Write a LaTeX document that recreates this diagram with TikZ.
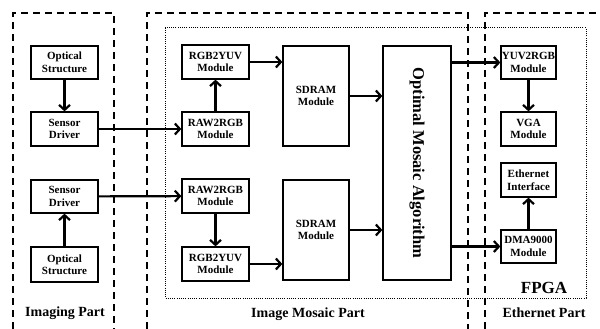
\documentclass[tikz,border=0pt]{standalone}
\usepackage{fontspec}
\setmainfont{Liberation Serif}
\usetikzlibrary{arrows.meta}

\tikzset{
  blk/.style={draw, line width=1.3pt, fill=white, inner sep=0pt,
    font=\fontsize{11}{12.5}\selectfont\bfseries, align=center},
  flow/.style={line width=2.2pt, -{Straight Barb[length=5pt,width=11pt]}},
  partframe/.style={line width=1.1pt, dash pattern=on 7pt off 5pt},
  fpgaframe/.style={line width=1pt, dash pattern=on 1pt off 1.2pt},
  partlabel/.style={font=\fontsize{14}{16}\selectfont\bfseries, inner sep=0pt}
}

\begin{document}
\begin{tikzpicture}[x=1pt, y=-1pt]
\useasboundingbox (0,0) rectangle (600,329);

% dashed frames of the three parts
\draw[partframe] (13,329) -- (13,13) -- (114,13) -- (114,329);
\draw[partframe] (147,329) -- (147,13) -- (468,13) -- (468,329);
\draw[partframe] (485,329) -- (485,13) -- (600,13);

% dotted FPGA frame
\draw[fpgaframe] (165,28) rectangle (586,298);

% imaging part
\node[blk, minimum width=67pt, minimum height=33pt] (opt1) at (64.5,62.5) {Optical\\Structure};
\node[blk, minimum width=67pt, minimum height=34pt] (sen1) at (64.5,129) {Sensor\\Driver};
\node[blk, minimum width=67pt, minimum height=33pt] (sen2) at (64.5,196.5) {Sensor\\Driver};
\node[blk, minimum width=67pt, minimum height=35pt] (opt2) at (64.5,264.5) {Optical\\Structure};

% image mosaic part
\node[blk, minimum width=67pt, minimum height=34pt] (yuv1) at (215.5,62) {RGB2YUV\\Module};
\node[blk, minimum width=67pt, minimum height=34pt] (raw1) at (215.5,129) {RAW2RGB\\Module};
\node[blk, minimum width=67pt, minimum height=34pt] (raw2) at (215.5,196) {RAW2RGB\\Module};
\node[blk, minimum width=67pt, minimum height=34pt] (yuv2) at (215.5,264) {RGB2YUV\\Module};
\node[blk, minimum width=66pt, minimum height=100pt] (sd1) at (316,96) {SDRAM\\Module};
\node[blk, minimum width=66pt, minimum height=100pt] (sd2) at (316,230) {SDRAM\\Module};
\node[blk, minimum width=68pt, minimum height=234pt] (oma) at (417,163) {};
\node[rotate=-90, inner sep=0pt, font=\fontsize{16.5}{18}\selectfont\bfseries] (omatext) at (oma.center) {Optimal Mosaic Algorithm};

% ethernet part
\node[blk, minimum width=55pt, minimum height=33pt] (yuv2rgb) at (528.5,62.5) {YUV2RGB\\Module};
\node[blk, minimum width=55pt, minimum height=34pt] (vga) at (528.5,129) {VGA\\Module};
\node[blk, minimum width=55pt, minimum height=34pt] (eth) at (528.5,180) {Ethernet\\Interface};
\node[blk, minimum width=55pt, minimum height=33pt] (dma) at (528.5,246.5) {DMA9000\\Module};

% connectors
\draw[flow] (opt1) -- (sen1);
\draw[flow] (opt2) -- (sen2);
\draw[flow] (sen1) -- (raw1);
\draw[flow] (sen2) -- (raw2);
\draw[flow] (raw1) -- (yuv1);
\draw[flow] (raw2) -- (yuv2);
\draw[flow] (yuv1.east) -- (yuv1.east -| sd1.west);
\draw[flow] (yuv2.east) -- (yuv2.east -| sd2.west);
\draw[flow] (sd1.east) -- (sd1.east -| oma.west);
\draw[flow] (sd2.east) -- (sd2.east -| oma.west);
\draw[flow] (yuv2rgb.west -| oma.east) -- (yuv2rgb.west);
\draw[flow] (dma.west -| oma.east) -- (dma.west);
\draw[flow] (yuv2rgb) -- (vga);
\draw[flow] (dma) -- (eth);

% part labels
\node[partlabel] (lblimg) at (65,313) {Imaging Part};
\node[partlabel] (lblmos) at (308,314) {Image Mosaic Part};
\node[partlabel] (lbleth) at (544,313) {Ethernet Part};
\node[font=\fontsize{17}{19}\selectfont\bfseries, inner sep=0pt] (lblfpga) at (544,287.5) {FPGA};
\end{tikzpicture}
\end{document}
